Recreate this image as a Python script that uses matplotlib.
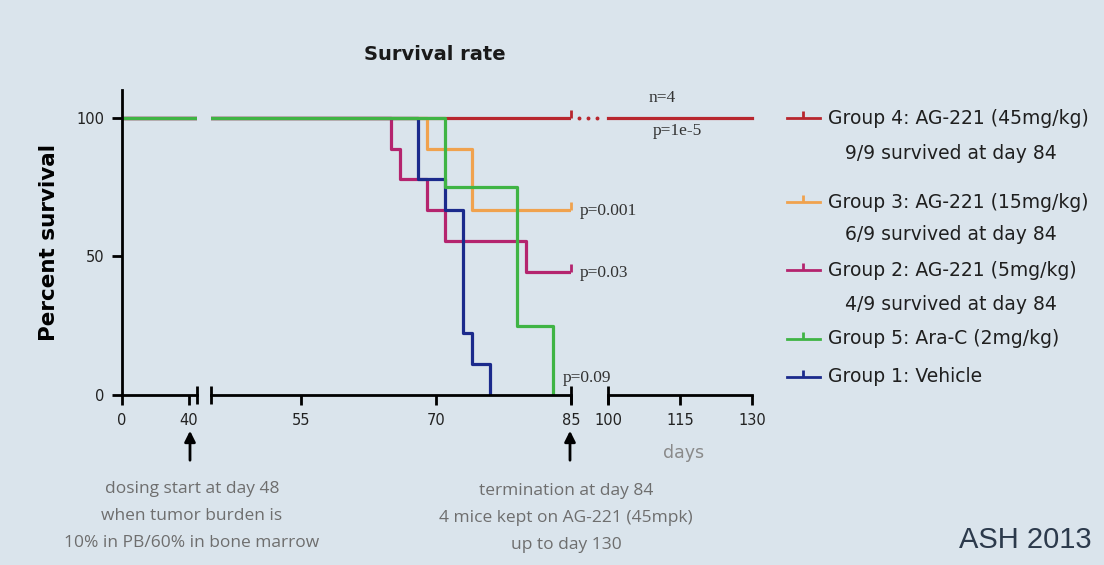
import matplotlib
matplotlib.use("Agg")
import matplotlib.pyplot as plt
from matplotlib.lines import Line2D
from matplotlib.patches import FancyArrowPatch

# survival data (days, percent surviving)
g1_days = [0, 68, 71, 73, 74, 76]
g1_surv = [100, 77.8, 66.7, 22.2, 11.1, 0]
g2_days = [0, 65, 66, 69, 71, 80, 85]
g2_surv = [100, 88.9, 77.8, 66.7, 55.6, 44.4, 44.4]
g3_days = [0, 69, 74, 85]
g3_surv = [100, 88.9, 66.7, 66.7]
g4_days = [0, 85]
g4_surv = [100, 100]
g4_ext_days = [100, 130]
g4_ext_surv = [100, 100]
g5_days = [0, 71, 79, 83]
g5_surv = [100, 75, 25, 0]

censor_day = 85
censor_g = {"g4": 100, "g3": 66.7, "g2": 44.4}

seg_limits = [(0, 45), (45, 85), (100, 130)]
seg_ticks = [[0, 40], [55, 70, 85], [100, 115, 130]]

p_labels = ["n=4", "p=1e-5", "p=0.001", "p=0.03", "p=0.09"]

legend_labels = ["Group 4: AG-221 (45mg/kg)", "Group 3: AG-221 (15mg/kg)",
                 "Group 2: AG-221 (5mg/kg)", "Group 5: Ara-C (2mg/kg)",
                 "Group 1: Vehicle"]
legend_notes = ["9/9 survived at day 84", "6/9 survived at day 84",
                "4/9 survived at day 84", None, None]

RED = "#b8262e"
ORANGE = "#f0a24e"
MAGENTA = "#b4246e"
GREEN = "#3fb444"
BLUE = "#1b2a8c"
BG = "#dae4ec"

W, H = 1104, 565
def fx(px):
    return px / W
def fy(py):
    return 1 - py / H

fig = plt.figure(figsize=(11.04, 5.65), dpi=100, facecolor=BG)

# axes boxes in pixels: (left, right)
boxes = [(122, 197), (211, 571), (608, 752)]
y_bot, y_top = 395, 90
axes = []
for (l, r) in boxes:
    ax = fig.add_axes([fx(l), fy(y_bot), (r - l) / W, (y_bot - y_top) / H])
    ax.set_facecolor("none")
    axes.append(ax)

lw = 2.3
for i, ax in enumerate(axes):
    ax.step(g4_days, g4_surv, where="post", color=RED, lw=lw)
    if i == 2:
        ax.plot(g4_ext_days, g4_ext_surv, color=RED, lw=lw, clip_on=False)
    ax.step(g3_days, g3_surv, where="post", color=ORANGE, lw=lw)
    ax.step(g2_days, g2_surv, where="post", color=MAGENTA, lw=lw)
    ax.step(g1_days, g1_surv, where="post", color=BLUE, lw=lw)
    ax.step(g5_days, g5_surv, where="post", color=GREEN, lw=lw)
    ax.set_xlim(*seg_limits[i])
    ax.set_ylim(0, 110)
    ax.set_xticks(seg_ticks[i])
    ax.set_xticklabels([str(t) for t in seg_ticks[i]])
    for s in ["top", "right"]:
        ax.spines[s].set_visible(False)
    ax.spines["bottom"].set_linewidth(2)
    ax.spines["left"].set_linewidth(2)
    ax.tick_params(axis="both", direction="out", length=7, width=2, labelsize=10.5,
                   pad=6, labelcolor="#222222")
    if i > 0:
        ax.spines["left"].set_visible(False)
        ax.set_yticks([])
    else:
        ax.set_yticks([0, 50, 100])
        ax.set_ylabel("Percent survival", fontsize=15.5, fontweight="bold", labelpad=12)

# censor marks at day 85
ax2 = axes[1]
for key, col in [("g4", RED), ("g3", ORANGE), ("g2", MAGENTA)]:
    ax2.plot([censor_day], [censor_g[key]], marker=2, ms=6, mew=2, color=col, clip_on=False)
ax2.plot([85.9, 86.9, 87.9], [100, 100, 100], ls="none", marker="o", ms=1.8, color=RED, clip_on=False)

# axis break marks
for ax, ends in [(axes[0], [1]), (axes[1], [0, 1]), (axes[2], [0])]:
    for e in ends:
        ax.plot([e], [0], marker="|", ms=13, mew=2, color="black",
                transform=ax.transAxes, clip_on=False)

fig.text(fx(435), fy(55), "Survival rate", fontsize=14, fontweight="bold",
         ha="center", va="center", color="#1a1a1a")

# p values
pc = "#333333"
pf = dict(fontsize=12.5, family="Liberation Serif", va="center", color=pc)
fig.text(fx(662), fy(98), p_labels[0], ha="center", **pf)
fig.text(fx(677), fy(131), p_labels[1], ha="center", **pf)
fig.text(fx(580), fy(211), p_labels[2], ha="left", **pf)
fig.text(fx(580), fy(273), p_labels[3], ha="left", **pf)
fig.text(fx(563), fy(378), p_labels[4], ha="left", **pf)

fig.text(fx(684), fy(453), "days", fontsize=12.5, ha="center", va="center", color="#8a8a8a")

# arrows
for x in [190, 570]:
    fig.add_artist(FancyArrowPatch(
        (fx(x), fy(463)), (fx(x), fy(428)), transform=fig.transFigure,
        arrowstyle="-|>", mutation_scale=16, color="black", lw=2))

gray = "#6e6e6e"
left_notes = ["dosing start at day 48", "when tumor burden is", "10% in PB/60% in bone marrow"]
right_notes = ["termination at day 84", "4 mice kept on AG-221 (45mpk)", "up to day 130"]
for k, (a, b) in enumerate(zip(left_notes, right_notes)):
    yy = 489 + 27 * k
    fig.text(fx(192), fy(yy), a, fontsize=12.5, family="Open Sans", ha="center", va="center", color=gray)
    fig.text(fx(566), fy(yy + 2), b, fontsize=12.5, family="Open Sans", ha="center", va="center", color=gray)

fig.text(fx(1092), fy(540), "ASH 2013", fontsize=21, family="Liberation Sans",
         ha="right", va="center", color="#2c3a4c")

# legend
leg_colors = [RED, ORANGE, MAGENTA, GREEN, BLUE]
leg_y = [118, 202, 270, 339, 377]
note_y = [153, 235, 305]
for k in range(5):
    y = leg_y[k]
    fig.add_artist(Line2D([fx(787), fx(820)], [fy(y), fy(y)], transform=fig.transFigure,
                          color=leg_colors[k], lw=2))
    fig.add_artist(Line2D([fx(803)], [fy(y)], transform=fig.transFigure, marker=2,
                          ms=5, mew=2, color=leg_colors[k]))
    fig.text(fx(828), fy(y), legend_labels[k], fontsize=13.5, ha="left", va="center", color="#1f1f1f")
    if legend_notes[k]:
        fig.text(fx(951), fy(note_y[k]), legend_notes[k], fontsize=13.5, ha="center",
                 va="center", color="#1f1f1f")

fig.savefig("out.png", dpi=100, facecolor=BG)
